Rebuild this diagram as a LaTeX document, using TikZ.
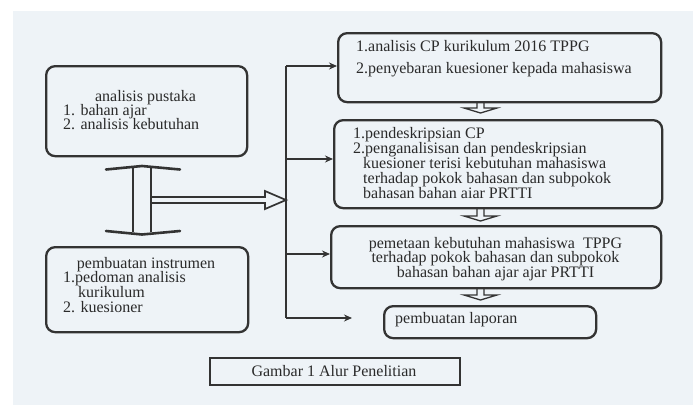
\documentclass[tikz,border=0pt]{standalone}
\usepackage{fontspec}
\setmainfont{Liberation Serif}
\usetikzlibrary{arrows.meta,calc}
\definecolor{ink}{HTML}{333333}
\definecolor{tink}{HTML}{2A2A2A}
\definecolor{paper}{HTML}{EEF3F7}
\begin{document}
\begin{tikzpicture}[x=1pt,y=-1pt,
  box/.style={draw=ink,line width=2.3pt,rounded corners=9pt,anchor=north west,inner sep=0pt},
  capbox/.style={draw=ink,line width=2.2pt,anchor=north west,inner sep=0pt},
  txt/.style={anchor=base west,inner sep=0pt,text=tink,font=\fontsize{16}{16}\selectfont},
  ctxt/.style={anchor=base,inner sep=0pt,text=tink,font=\fontsize{16}{16}\selectfont},
  arr/.style={draw=ink,line width=1.6pt,-{Stealth[length=8pt,width=7pt]}},
  trunk/.style={draw=ink,line width=1.6pt},
  hollow/.style={draw=ink,line width=1.7pt,line join=miter},
  flathead/.style={draw=ink,line width=2.6pt,line cap=round}]
\useasboundingbox (0,0) rectangle (696,405);
\fill[white] (0,0) rectangle (696,405);
\fill[paper] (13,11) rectangle (693,405);

% boxes
\node[box,minimum width=201pt,minimum height=90pt] (A) at (45,65) {};
\node[box,minimum width=202pt,minimum height=85pt] (B) at (45,246) {};
\node[box,minimum width=323pt,minimum height=69pt] (C) at (337,32) {};
\node[box,minimum width=328pt,minimum height=88pt] (D) at (333,119) {};
\node[box,minimum width=330pt,minimum height=62pt] (E) at (330,225) {};
\node[box,minimum width=212pt,minimum height=32pt] (F) at (383,305) {};
\node[capbox,minimum width=250pt,minimum height=27pt] (G) at (209,357) {};

% texts
\node[ctxt] (a1) at (145.5,101) {analisis pustaka};
\node[txt] (a2) at (63,115) {1. bahan ajar};
\node[txt] (a3) at (63,129.5) {2. analisis kebutuhan};

\node[ctxt] (b1) at (146,268) {pembuatan instrumen};
\node[txt] (b2) at (63,282.5) {1.pedoman analisis};
\node[txt] (b3) at (78,297) {kurikulum};
\node[txt] (b4) at (63,312) {2. kuesioner};

\node[txt] (c1) at (356,51) {1.analisis CP kurikulum 2016 TPPG};
\node[txt] (c2) at (356,73) {2.penyebaran kuesioner kepada mahasiswa};

\node[txt] (d1) at (353,138) {1.pendeskripsian CP};
\node[txt] (d2) at (353,153) {2.penganalisisan dan pendeskripsian};
\node[txt] (d3) at (363,168) {kuesioner terisi kebutuhan mahasiswa};
\node[txt] (d4) at (363,183) {terhadap pokok bahasan dan subpokok};
\node[txt] (d5) at (363,198) {bahasan bahan aiar PRTTI};

\node[ctxt] (e1) at (495.5,248) {pemetaan kebutuhan mahasiswa\ \ TPPG};
\node[ctxt] (e2) at (495.5,262.5) {terhadap pokok bahasan dan subpokok};
\node[ctxt] (e3) at (495.5,277) {bahasan bahan ajar ajar PRTTI};

\node[txt] (f1) at (395,323) {pembuatan laporan};
\node[ctxt] (g1) at (334,376) {Gambar 1 Alur Penelitian};

% trunk and branches
\coordinate (t1) at (286,66);
\coordinate (t2) at (286,159);
\coordinate (t3) at (286,254);
\coordinate (t4) at (286,318);
\coordinate (t5) at (352,318);
\draw[trunk] (t1) -- (t4);
\draw[arr] (t1) -- (C.west |- t1);
\draw[arr] (t2) -- (D.west |- t2);
\draw[arr] (t3) -- (E.west |- t3);
\draw[arr] (t4) -- (t5);

% double hollow arrow between A and B
\draw[hollow] (133,168) -- (133,232);
\draw[hollow] (151,168) -- (151,232);
\draw[flathead] (106,169.5) -- (142,166) -- (180,169.5);
\draw[flathead] (106,231) -- (142,234.5) -- (180,231);
% hollow arrow to trunk
\coordinate (h0) at (151,200);
\draw[hollow] (h0 |- 0,197) -- (265,197) -- (265,191) -- (t1 |- 0,200) -- (265,209) -- (265,203) -- (h0 |- 0,203);

% small hollow down arrows
\draw[hollow,line width=1.3pt] (477,101) -- (477,108) -- (464,108) -- (480.5,113) -- (497,108) -- (484,108) -- (484,101);
\draw[hollow,line width=1.3pt] (477,207) -- (477,216) -- (464,216) -- (480.5,221) -- (497,216) -- (484,216) -- (484,207);
\draw[hollow,line width=1.3pt] (477,287) -- (477,295) -- (464,295) -- (480.5,300) -- (497,295) -- (484,295) -- (484,287);
\end{tikzpicture}
\end{document}
